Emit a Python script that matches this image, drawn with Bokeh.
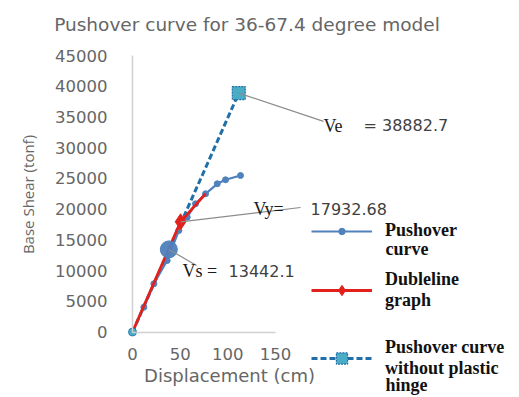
import math
from bokeh.plotting import figure
from bokeh.models import Range1d, Label, Legend, LegendItem, FixedTicker
from bokeh.embed import file_html
from bokeh.resources import INLINE

# ---- data ----
disp_po = [0, 11.9, 22.4, 36.4, 48.6, 57.4, 66.1, 76.6, 88.9, 97.6, 113.3]
shear_po = [0, 4036, 7845, 11637, 16519, 18684, 20864, 22492, 24120, 24771, 25470]
disp_bl = [0, 50.4, 76.6]
shear_bl = [0, 17932.68, 22492]
disp_nh = [0, 111.5]
shear_nh = [0, 38882.7]
vs_x, vs_y = 38.1, 13442.1
vy_x, vy_y = 50.4, 17932.68
ve_x, ve_y = 111.5, 38882.7
x_ticks = [0, 50, 100, 150]
y_ticks = [0, 5000, 10000, 15000, 20000, 25000, 30000, 35000, 40000, 45000]

# ---- layout (frame covers whole canvas; axes drawn at fixed locations) ----
W, H = 519, 397
OX, OY = 132, 331.5          # pixel of the data origin
PX_X = 143 / 150             # px per cm
PX_Y = 276.5 / 45000         # px per tonf

def dx(px):  # canvas x pixel -> data x
    return (px - OX) / PX_X

def dy(py):  # canvas y pixel -> data y
    return (OY - py) / PX_Y

p = figure(width=W, height=H, output_backend="svg", toolbar_location=None,
           x_range=Range1d(dx(0), dx(W)), y_range=Range1d(dy(H), dy(0)),
           min_border=0, min_border_left=0, min_border_right=0,
           min_border_top=0, min_border_bottom=0)
p.outline_line_color = None
p.grid.grid_line_color = None
p.background_fill_color = "white"
p.border_fill_color = "white"

AX = "#D0D0D0"
TICK = "#666666"
TICKFONT = "DejaVu Sans"
for ax in (p.xaxis[0], p.yaxis[0]):
    ax.fixed_location = 0
    ax.axis_line_color = AX
    ax.axis_line_width = 1.5
    ax.major_tick_line_color = None
    ax.minor_tick_line_color = None
    ax.major_label_text_font = TICKFONT
    ax.major_label_text_font_size = "16.5px"
    ax.major_label_text_color = TICK
p.xaxis[0].bounds = (0, 150)
p.yaxis[0].bounds = (0, 45000)
p.xaxis[0].ticker = FixedTicker(ticks=x_ticks)
p.yaxis[0].ticker = FixedTicker(ticks=y_ticks)
p.xaxis[0].major_label_standoff = 10
p.yaxis[0].major_label_standoff = 19

BLUE = "#4F81BD"
RED = "#E3211C"
DASH = "#1F6FA8"
CYAN = "#4BACC6"

# no-hinge dashed
r_nh_l = p.line(disp_nh, shear_nh, line_color=DASH, line_width=3, line_dash="6 3")
r_nh_m = p.scatter(disp_nh[1:], shear_nh[1:], marker="square", size=13, fill_color=CYAN,
                   line_color=DASH, line_width=1.2, line_dash="2 1")
# pushover
r_po_l = p.line(disp_po, shear_po, line_color=BLUE, line_width=2.2)
r_po_m = p.scatter(disp_po, shear_po, size=6, fill_color=BLUE, line_color=BLUE)
# dubleline
r_bl_l = p.line(disp_bl, shear_bl, line_color=RED, line_width=2.8)
r_bl_m = p.scatter([vy_x], [vy_y], marker="diamond", size=16, fill_color=RED, line_color=RED)
# Vs point
p.scatter([vs_x], [vs_y], size=17, fill_color=BLUE, line_color=BLUE, fill_alpha=0.95)
# origin point
p.scatter([disp_nh[0]], [shear_nh[0]], size=8, fill_color=CYAN, line_color=DASH, line_width=0.8)

# leader lines (pixel offsets converted to data)
lead = [((ve_x, ve_y), (84.7, -28.3)), ((vy_x, vy_y), (120, 14.3)), ((vs_x, vs_y), (27.7, -16.1))]
x0s, y0s, x1s, y1s = [], [], [], []
for (x, y), (ox, oy) in lead:
    x0s.append(x); y0s.append(y)
    x1s.append(x + ox / PX_X); y1s.append(y + oy / PX_Y)
p.segment(x0s, y0s, x1s, y1s, line_color="#8C8C8C", line_width=1.2)

def lab(x, y, text, ox, oy, font, size, color):
    p.add_layout(Label(x=x, y=y, x_offset=ox, y_offset=oy, text=text, text_font=font,
                       text_font_size=size, text_color=color, text_baseline="middle",
                       text_align="left"))

SER, SERC = "Liberation Serif", "#1A1A1A"
NUMC = "#404040"
lab(ve_x, ve_y, "Ve", 84.7, -33.3, SER, "18px", SERC)
lab(ve_x, ve_y, "= 38882.7", 124.7, -32.3, TICKFONT, "16px", NUMC)
lab(vy_x, vy_y, "Vy=", 73, 13.3, SER, "18px", SERC)
lab(vy_x, vy_y, "17932.68", 130, 13.3, TICKFONT, "16px", NUMC)
lab(vs_x, vs_y, "Vs =", 13.7, -21.1, SER, "18px", SERC)
lab(vs_x, vs_y, "13442.1", 59.7, -21.1, TICKFONT, "16px", NUMC)

# title and axis titles
p.add_layout(Label(x=dx(246.5), y=dy(24), text="Pushover curve for 36-67.4 degree model",
                   text_font=TICKFONT, text_font_size="18.5px", text_color="#666666",
                   text_align="center", text_baseline="middle"))
p.add_layout(Label(x=dx(229), y=dy(375), text="Displacement (cm)",
                   text_font=TICKFONT, text_font_size="18px", text_color="#666666",
                   text_align="center", text_baseline="middle"))
p.add_layout(Label(x=dx(27), y=dy(194), text="Base Shear (tonf)", angle=math.pi / 2,
                   text_font="Open Sans", text_font_size="15px", text_color="#666666",
                   text_align="center", text_baseline="middle"))

# legends
LEGFONT = dict(label_text_font="Liberation Serif", label_text_font_style="bold",
               label_text_font_size="18px", label_text_color="#111111",
               label_text_line_height=0.9)

def legend(label, rends, loc, gh):
    lg = Legend(items=[LegendItem(label=label, renderers=rends)], location=loc,
                glyph_width=61, glyph_height=gh, label_standoff=13, padding=0, margin=0,
                spacing=0, background_fill_alpha=0, border_line_alpha=0, **LEGFONT)
    p.add_layout(lg)

legend("Pushover", [r_po_l, r_po_m], (311, H - 241), 16)
legend("Dubleline\ngraph", [r_bl_l, r_bl_m], (311, H - 311), 26)
legend("Pushover curve\nwithout plastic", [r_nh_l, r_nh_m], (311, H - 379), 28)

def legtext(px, py, text):
    p.add_layout(Label(x=dx(px), y=dy(py), text=text, text_font="Liberation Serif",
                       text_font_style="bold", text_font_size="18px", text_color="#111111",
                       text_align="left", text_baseline="middle"))

legtext(385, 248, "curve")
legtext(385, 384, "hinge")

open("out.html", "w").write(file_html(p, INLINE))
